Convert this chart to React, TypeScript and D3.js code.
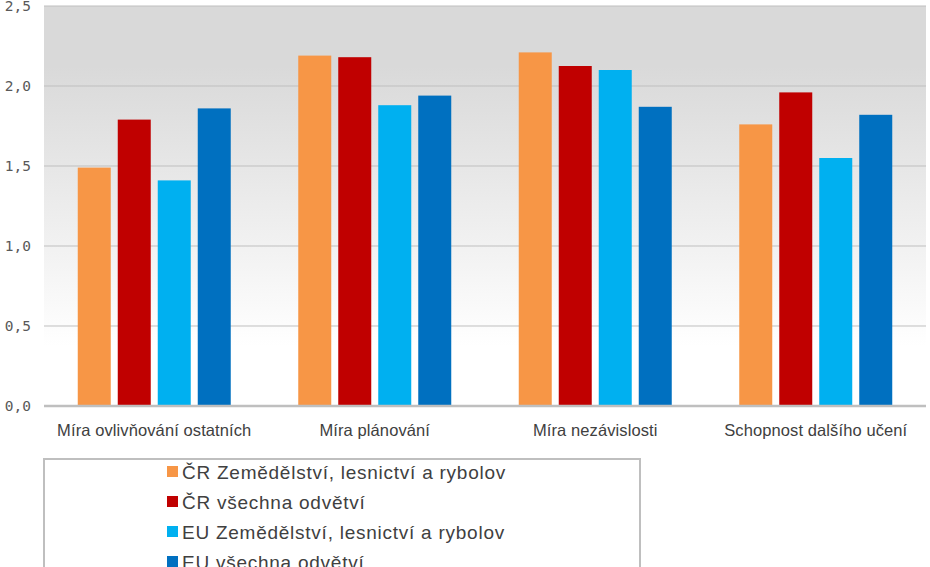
import React from "react";
import * as d3 from "d3";

const categories = ["Míra ovlivňování ostatních", "Míra plánování", "Míra nezávislosti", "Schopnost dalšího učení"];
const seriesNames = [
  "ČR Zemědělství, lesnictví a rybolov",
  "ČR všechna odvětví",
  "EU Zemědělství, lesnictví a rybolov",
  "EU všechna odvětví",
];
const crAgri = [1.49, 2.19, 2.21, 1.76];
const crAll = [1.79, 2.18, 2.125, 1.96];
const euAgri = [1.41, 1.88, 2.1, 1.55];
const euAll = [1.86, 1.94, 1.87, 1.82];
const yTicks = [0, 0.5, 1, 1.5, 2, 2.5];
const colors = ["#f79646", "#c00000", "#00b0f0", "#0070c0"];

export default function App() {
  const W = 930, H = 567;
  const left = 44, right = 926, top = 6, bottom = 406;
  const series = [crAgri, crAll, euAgri, euAll];
  const x0 = d3.scaleBand<string>().domain(categories).range([left, right]);
  const y = d3.scaleLinear().domain([0, 2.5]).range([bottom, top]);
  const step = 40, bw = 33;
  const fmt = (v: number) => v.toFixed(1).replace(".", ",");
  return (
    <svg width={W} height={H} style={{ position: "absolute", left: 0, top: 0, display: "block" }}>
      <defs>
        <linearGradient id="bg" x1="0" y1="0" x2="0" y2="1">
          <stop offset="0" stopColor="#d9d9d9" />
          <stop offset="0.15" stopColor="#d9d9d9" />
          <stop offset="0.85" stopColor="#ffffff" />
          <stop offset="1" stopColor="#ffffff" />
        </linearGradient>
      </defs>
      <rect x={0} y={0} width={W} height={H} fill="#fff" />
      <rect x={left} y={top} width={right - left} height={bottom - top} fill="url(#bg)" />
      {yTicks.map((t) => (
        <g key={t}>
          {t > 0 && <line x1={left} x2={right} y1={y(t)} y2={y(t)} stroke="#bfbfbf" strokeWidth={1} />}
          <text x={31} y={y(t) + 5} textAnchor="end" fontFamily="DejaVu Sans Mono" fontSize={14.5} fill="#595959">
            {fmt(t)}
          </text>
        </g>
      ))}
      {categories.map((c, i) => {
        const cx = (x0(c) as number) + x0.bandwidth() / 2;
        return (
          <g key={c}>
            {series.map((s, k) => (
              <rect key={k} x={cx - 76.5 + k * step} y={y(s[i])} width={bw} height={bottom - y(s[i])} fill={colors[k]} />
            ))}
            <text x={cx} y={436} textAnchor="middle" fontFamily="Liberation Sans Narrow, Liberation Sans, sans-serif" fontSize={16.5} letterSpacing={0.1} fill="#404040">
              {c}
            </text>
          </g>
        );
      })}
      <line x1={left} x2={right} y1={bottom} y2={bottom} stroke="#bfbfbf" strokeWidth={2.5} />
      <rect x={44} y={459} width={596} height={120} fill="#fff" stroke="#bfbfbf" strokeWidth={2} />
      {seriesNames.map((n, k) => (
        <g key={n}>
          <rect x={167} y={466 + k * 30} width={11} height={11} fill={colors[k]} />
          <text x={182} y={478.5 + k * 30} fontFamily="Liberation Sans Narrow, Liberation Sans, sans-serif" fontSize={19} letterSpacing={0.75} fill="#404040">
            {n}
          </text>
        </g>
      ))}
    </svg>
  );
}
